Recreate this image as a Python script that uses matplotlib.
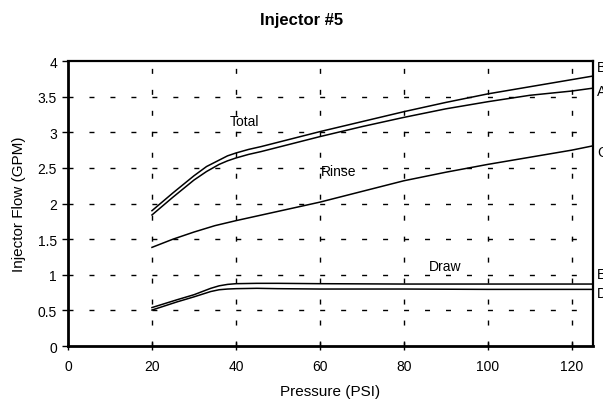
import matplotlib
matplotlib.use("Agg")
import matplotlib.pyplot as plt

plt.rcParams['font.family'] = ['Liberation Sans', 'DejaVu Sans']
plt.rcParams['lines.scale_dashes'] = False

# Data
pressure_total = [20, 25, 30, 33, 36, 38, 40, 43, 46, 50, 60, 70, 80, 90, 100, 110, 120, 125]
total_B = [1.90, 2.15, 2.39, 2.52, 2.61, 2.67, 2.71, 2.76, 2.80, 2.86, 3.01, 3.15, 3.29, 3.42, 3.54, 3.64, 3.74, 3.79]
total_A = [1.84, 2.09, 2.33, 2.45, 2.55, 2.60, 2.64, 2.69, 2.73, 2.79, 2.94, 3.08, 3.21, 3.33, 3.43, 3.52, 3.58, 3.62]

pressure_rinse = [20, 25, 30, 35, 40, 50, 60, 70, 80, 90, 100, 110, 120, 125]
rinse_C = [1.385, 1.50, 1.60, 1.69, 1.76, 1.89, 2.02, 2.17, 2.32, 2.44, 2.55, 2.65, 2.75, 2.81]

pressure_draw = [20, 26, 30, 34, 36, 38, 40, 45, 50, 60, 80, 100, 125]
draw_E = [0.54, 0.65, 0.72, 0.81, 0.845, 0.865, 0.875, 0.88, 0.88, 0.875, 0.87, 0.87, 0.87]
draw_D = [0.505, 0.62, 0.69, 0.765, 0.79, 0.80, 0.805, 0.81, 0.805, 0.80, 0.80, 0.795, 0.795]

end_labels = ['B', 'A', 'C', 'E', 'D']
end_label_y = [3.92, 3.58, 2.72, 1.01, 0.74]

curve_labels = ['Total', 'Rinse', 'Draw']
curve_label_x = [42.1, 64.4, 89.8]
curve_label_y = [3.16, 2.46, 1.12]

x_ticks = [0, 20, 40, 60, 80, 100, 120]
y_ticks = [0, 0.5, 1, 1.5, 2, 2.5, 3, 3.5, 4]
y_tick_labels = ['0', '0.5', '1', '1.5', '2', '2.5', '3', '3.5', '4']

fig = plt.figure(figsize=(6.03, 4.06), dpi=100)
ax = fig.add_axes([0.1128, 0.1453, 0.8702, 0.7017])

lw = 1.1
ax.plot(pressure_total, total_B, color='black', lw=lw)
ax.plot(pressure_total, total_A, color='black', lw=lw)
ax.plot(pressure_rinse, rinse_C, color='black', lw=lw)
ax.plot(pressure_draw, draw_E, color='black', lw=lw)
ax.plot(pressure_draw, draw_D, color='black', lw=lw)

ax.set_xlim(0, 125)
ax.set_ylim(0, 4)
ax.set_xticks(x_ticks)
ax.set_yticks(y_ticks)
ax.set_yticklabels(y_tick_labels)

ax.grid(True, color='black', lw=1.0, linestyle=(0, (3.6, 11.5)))
ax.set_axisbelow(True)
ax.get_ygridlines()[-1].set_visible(False)
ax.get_ygridlines()[0].set_visible(False)
ax.get_xgridlines()[0].set_visible(False)

for s in ['left', 'bottom']:
    ax.spines[s].set_linewidth(2.0)
for s in ['top', 'right']:
    ax.spines[s].set_linewidth(1.6)

ax.tick_params(axis='x', direction='inout', length=6, width=1, labelsize=10, pad=6)
ax.tick_params(axis='y', direction='out', length=4, width=1, labelsize=10, pad=4)

for lab, yv in zip(end_labels, end_label_y):
    ax.text(126, yv, lab, fontsize=10, ha='left', va='center', clip_on=False)

for lab, xv, yv in zip(curve_labels, curve_label_x, curve_label_y):
    ax.text(xv, yv, lab, fontsize=10, ha='center', va='center')

ax.set_xlabel('Pressure (PSI)', fontsize=11, labelpad=8)
ax.set_ylabel('Injector Flow (GPM)', fontsize=11, labelpad=8)
fig.text(0.5, 0.95, 'Injector #5', ha='center', va='center', fontsize=12,
         fontweight='bold', family=['Liberation Sans Narrow', 'Liberation Sans', 'DejaVu Sans'])

fig.savefig('out.png', dpi=100)
